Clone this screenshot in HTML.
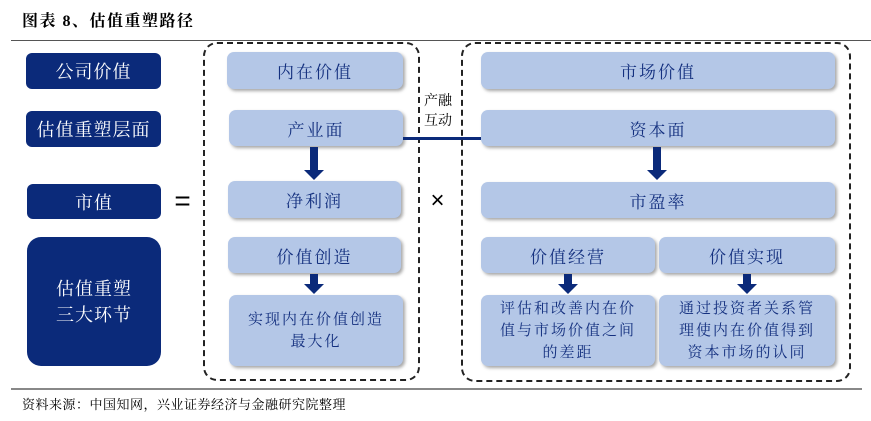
<!DOCTYPE html>
<html><head><meta charset="utf-8"><style>
body{margin:0;width:871px;height:421px;background:#fff;position:relative;overflow:hidden;font-family:"Liberation Sans","Noto Sans CJK SC",sans-serif}
.a{position:absolute;box-sizing:border-box;display:flex;align-items:center;justify-content:center;text-align:center}
.d{background:#0b2a7a;color:#fff;border-radius:6px;font-size:18px;letter-spacing:1px;font-family:"Liberation Serif","Noto Serif CJK SC",serif}
.l{background:#b4c7e7;color:#14307f;border-radius:7px;font-size:17px;letter-spacing:2px;box-shadow:2px 2px 3px rgba(0,0,0,.35);font-family:"Liberation Serif","Noto Serif CJK SC",serif}
.s{font-size:15px;line-height:22px;letter-spacing:2px}
.dash{position:absolute;border:2px dashed #222;border-radius:14px;box-sizing:border-box}
.arr{position:absolute;width:8px;background:#0b2a7a}
.arr:after{content:"";position:absolute;left:-6px;bottom:-9px;border-left:10px solid transparent;border-right:10px solid transparent;border-top:10px solid #0b2a7a}
</style></head><body>
<div style="position:absolute;left:22px;top:8px;font-size:16px;font-weight:bold;letter-spacing:1.5px;font-family:'Liberation Serif','Noto Serif CJK SC',serif">图表 8、估值重塑路径</div>
<div style="position:absolute;left:11px;top:40px;width:860px;height:1px;background:#555"></div>
<div style="position:absolute;left:11px;top:388px;width:851px;height:2px;background:#888"></div>
<div style="position:absolute;left:22px;top:394px;font-size:13px;letter-spacing:0.5px;font-family:'Liberation Serif','Noto Serif CJK SC',serif">资料来源：中国知网，兴业证券经济与金融研究院整理</div>

<div class="a d" style="left:26px;top:53px;width:135px;height:36px">公司价值</div>
<div class="a d" style="left:26px;top:111px;width:135px;height:36px">估值重塑层面</div>
<div class="a d" style="left:27px;top:184px;width:134px;height:35px">市值</div>
<div class="a d" style="left:27px;top:237px;width:134px;height:129px;border-radius:14px;line-height:26px">估值重塑<br>三大环节</div>
<div class="a" style="left:170px;top:186px;width:25px;height:30px;font-size:28px">=</div>

<div class="dash" style="left:203px;top:42px;width:217px;height:339px"></div>
<div class="a l" style="left:227px;top:52px;width:176px;height:37px">内在价值</div>
<div class="a l" style="left:229px;top:110px;width:174px;height:36px">产业面</div>
<div class="arr" style="left:310px;top:147px;height:24px"></div>
<div class="a l" style="left:228px;top:181px;width:173px;height:37px">净利润</div>
<div class="a l" style="left:228px;top:237px;width:173px;height:36px">价值创造</div>
<div class="arr" style="left:310px;top:274px;height:11px"></div>
<div class="a l s" style="left:229px;top:295px;width:174px;height:71px">实现内在价值创造<br>最大化</div>

<div style="position:absolute;left:403px;top:137px;width:78px;height:3px;background:#0b2a7a"></div>
<div style="position:absolute;left:424px;top:92px;font-size:14px;line-height:20px;font-family:'Liberation Serif','Noto Serif CJK SC',serif">产融<br>互动</div>
<div class="a" style="left:425px;top:186px;width:25px;height:30px;font-size:24px">×</div>

<div class="dash" style="left:461px;top:42px;width:390px;height:340px"></div>
<div class="a l" style="left:481px;top:52px;width:354px;height:37px">市场价值</div>
<div class="a l" style="left:481px;top:110px;width:354px;height:36px">资本面</div>
<div class="arr" style="left:653px;top:147px;height:24px"></div>
<div class="a l" style="left:481px;top:182px;width:354px;height:36px">市盈率</div>
<div class="a l" style="left:481px;top:237px;width:174px;height:36px">价值经营</div>
<div class="a l" style="left:659px;top:237px;width:176px;height:36px">价值实现</div>
<div class="arr" style="left:564px;top:274px;height:11px"></div>
<div class="arr" style="left:743px;top:274px;height:11px"></div>
<div class="a l s" style="left:481px;top:295px;width:174px;height:71px">评估和改善内在价<br>值与市场价值之间<br>的差距</div>
<div class="a l s" style="left:659px;top:295px;width:176px;height:71px">通过投资者关系管<br>理使内在价值得到<br>资本市场的认同</div>
</body></html>
